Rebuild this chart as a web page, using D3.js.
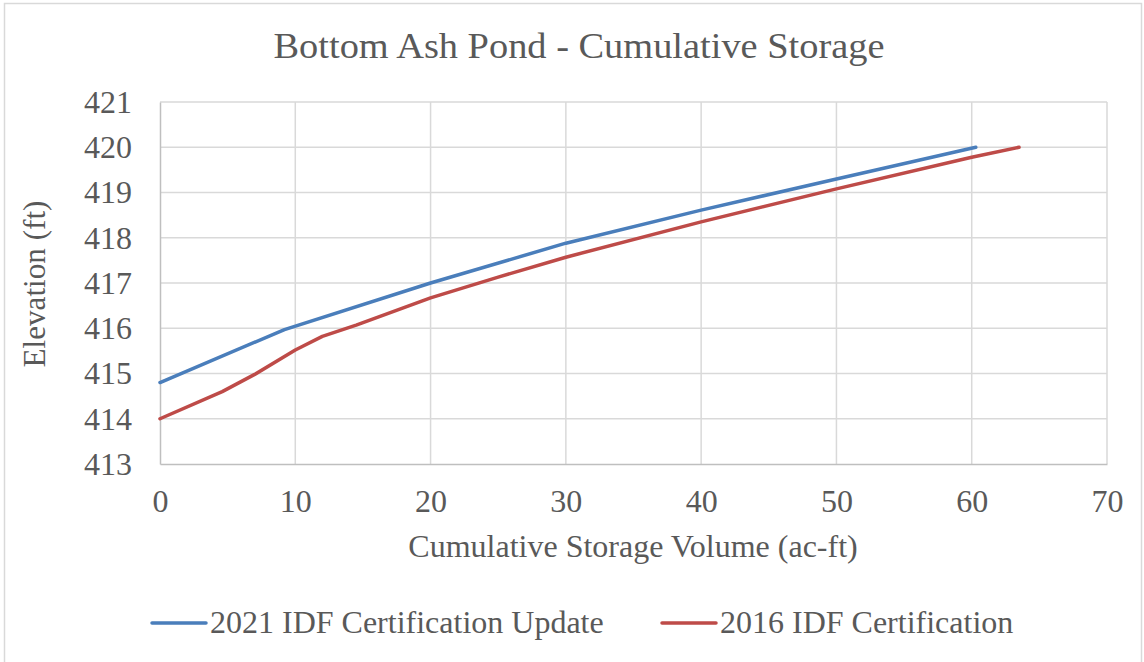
<!DOCTYPE html>
<html>
<head>
<meta charset="utf-8">
<script src="https://cdn.jsdelivr.net/npm/d3@7"></script>
<style>
  html, body { margin: 0; padding: 0; background: #fff; }
  svg text { font-family: "Liberation Serif", "Times New Roman", serif; fill: #595959; }
</style>
</head>
<body>
<div id="container"></div>
<script>
// values
const seriesNames = ['2021 IDF Certification Update', '2016 IDF Certification'];
const seriesColors = ['#4a7ebb', '#be4b48'];

const volume2021 = [0, 9.2, 20, 30, 40, 50, 60.3];
const elev2021 = [414.8, 415.97, 417.0, 417.88, 418.61, 419.3, 420.0];

const volume2016 = [0, 4.6, 7, 10, 12, 14.5, 20, 25, 30, 40, 50, 60, 63.5];
const elev2016 = [414.0, 414.6, 414.98, 415.52, 415.82, 416.07, 416.67, 417.13, 417.57, 418.35, 419.08, 419.78, 420.0];

const xTicks = [0, 10, 20, 30, 40, 50, 60, 70];
const yTicks = [413, 414, 415, 416, 417, 418, 419, 420, 421];

const width = 1144, height = 662;
const plot = { left: 160, right: 1107, top: 102, bottom: 464 };

const svg = d3.select('#container')
    .append('svg')
    .attr('width', width)
    .attr('height', height);

svg.append('rect')
    .attr('x', 0).attr('y', 0)
    .attr('width', width).attr('height', height)
    .attr('fill', '#fff');

// outer chart border
svg.append('rect')
    .attr('x', 4.5).attr('y', 3.5)
    .attr('width', width - 7).attr('height', height)
    .attr('fill', 'none')
    .attr('stroke', '#d9d9d9')
    .attr('stroke-width', 1.5);

const x = d3.scaleLinear().domain([0, 70]).range([plot.left, plot.right]);
const y = d3.scaleLinear().domain([413, 421]).range([plot.bottom, plot.top]);

// gridlines
const grid = svg.append('g').attr('class', 'grid');
grid.selectAll('.vgrid')
    .data(xTicks.slice(1))
    .enter().append('line')
    .attr('x1', (d) => x(d)).attr('x2', (d) => x(d))
    .attr('y1', plot.top).attr('y2', plot.bottom)
    .attr('stroke', '#d9d9d9').attr('stroke-width', 1.5);
grid.selectAll('.hgrid')
    .data(yTicks.slice(1))
    .enter().append('line')
    .attr('x1', plot.left).attr('x2', plot.right)
    .attr('y1', (d) => y(d)).attr('y2', (d) => y(d))
    .attr('stroke', '#d9d9d9').attr('stroke-width', 1.5);

// axes
const xAxis = svg.append('g')
    .attr('transform', `translate(0, ${plot.bottom})`)
    .call(d3.axisBottom(x).tickValues(xTicks).tickSize(0).tickPadding(25));
const yAxis = svg.append('g')
    .attr('transform', `translate(${plot.left}, 0)`)
    .call(d3.axisLeft(y).tickValues(yTicks).tickSize(0).tickPadding(28));

[xAxis, yAxis].forEach((ax) => {
    ax.select('.domain').attr('stroke', '#bfbfbf').attr('stroke-width', 1.5);
    ax.selectAll('text')
        .attr('font-family', '"Liberation Serif", "Times New Roman", serif')
        .attr('font-size', '32px')
        .attr('fill', '#595959');
});
xAxis.selectAll('text').attr('dy', '0.71em');

// series lines
const series = [
    { name: seriesNames[0], color: seriesColors[0], xs: volume2021, ys: elev2021 },
    { name: seriesNames[1], color: seriesColors[1], xs: volume2016, ys: elev2016 }
];

const line = d3.line()
    .x((d) => x(d[0]))
    .y((d) => y(d[1]));

svg.append('g').attr('class', 'series')
    .selectAll('path')
    .data(series)
    .enter().append('path')
    .attr('d', (s) => line(s.xs.map((v, i) => [v, s.ys[i]])))
    .attr('fill', 'none')
    .attr('stroke', (s) => s.color)
    .attr('stroke-width', 3.5)
    .attr('stroke-linecap', 'round')
    .attr('stroke-linejoin', 'round');

// title
svg.append('text')
    .attr('x', 579).attr('y', 58)
    .attr('text-anchor', 'middle')
    .attr('font-size', '36px')
    .attr('textLength', 611)
    .attr('lengthAdjust', 'spacingAndGlyphs')
    .text('Bottom Ash Pond - Cumulative Storage');

// axis titles
svg.append('text')
    .attr('x', 633).attr('y', 557)
    .attr('text-anchor', 'middle')
    .attr('font-size', '32px')
    .text('Cumulative Storage Volume (ac-ft)');

svg.append('text')
    .attr('transform', `translate(45, 284) rotate(-90)`)
    .attr('text-anchor', 'middle')
    .attr('font-size', '32px')
    .attr('textLength', 167)
    .attr('lengthAdjust', 'spacingAndGlyphs')
    .text('Elevation (ft)');

// legend
const legendX = [152, 662];
const legend = svg.append('g').attr('class', 'legend')
    .selectAll('g')
    .data(series)
    .enter().append('g')
    .attr('transform', (d, i) => `translate(${legendX[i]}, 623)`);

legend.append('line')
    .attr('x1', 0).attr('x2', 54)
    .attr('y1', 0).attr('y2', 0)
    .attr('stroke', (d) => d.color)
    .attr('stroke-width', 3.5)
    .attr('stroke-linecap', 'round');

legend.append('text')
    .attr('x', 58).attr('y', 10)
    .attr('font-size', '32px')
    .text((d) => d.name);
</script>
</body>
</html>
